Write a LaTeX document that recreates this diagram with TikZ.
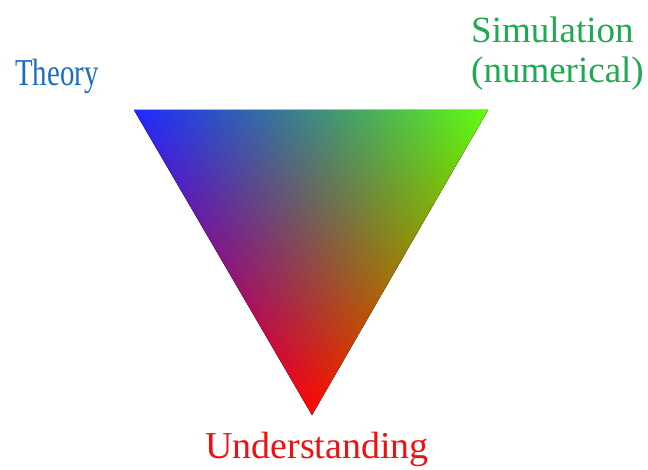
\documentclass[tikz,border=0pt]{standalone}
\usepackage{fontspec}
\setmainfont{Liberation Serif}
\usetikzlibrary{positioning}
\definecolor{theoryblue}{HTML}{1A6DC0}
\definecolor{simgreen}{HTML}{1EAA50}
\definecolor{underred}{HTML}{EE1111}
\definecolor{cornerblue}{rgb}{0.12,0.16,1}
\definecolor{cornergreen}{rgb}{0.38,1,0.06}
\definecolor{cornerred}{rgb}{1,0.02,0.02}

\begin{document}
\begin{tikzpicture}[
  x=1pt, y=1pt,
  cornertext/.style={inner sep=0pt, font=\fontsize{38}{40}\selectfont},
  ramp/.style={top color=black}
]
\useasboundingbox (0,0) rectangle (648,469);

% Corners of the triangle
\coordinate (B) at (134,359);
\coordinate (G) at (488,359);
\coordinate (R) at (312,54);

% Colour field: red ramp as base, blue and green ramps added by screen blending
\shade[ramp, bottom color=cornerred] (B) -- (G) -- (R) -- cycle;
\begin{scope}
  \clip (B) -- (G) -- (R) -- cycle;
  \begin{scope}[blend mode=screen]
    \begin{scope}[transform canvas={shift={(G)}, rotate=-119.99}]
      \shade[ramp, bottom color=cornerblue] (-40,0) rectangle (392,-306.6);
    \end{scope}
    \begin{scope}[transform canvas={shift={(B)}, rotate=-59.73}]
      \shade[bottom color=black, top color=cornergreen] (-40,0) rectangle (393,305.8);
    \end{scope}
  \end{scope}
\end{scope}

% Labels
\node[cornertext, text=theoryblue, anchor=base west] (theory) at (15,383) {\scalebox{0.76}[1]{Theory}};
\node[cornertext, font=\fontsize{37}{40}\selectfont, text=simgreen, anchor=base west, align=left] (simulation) at (471,386) {Simulation\\(numerical)};
\node[cornertext, text=underred, anchor=base] (understanding) at (317,11) {Understanding};

\end{tikzpicture}
\end{document}
